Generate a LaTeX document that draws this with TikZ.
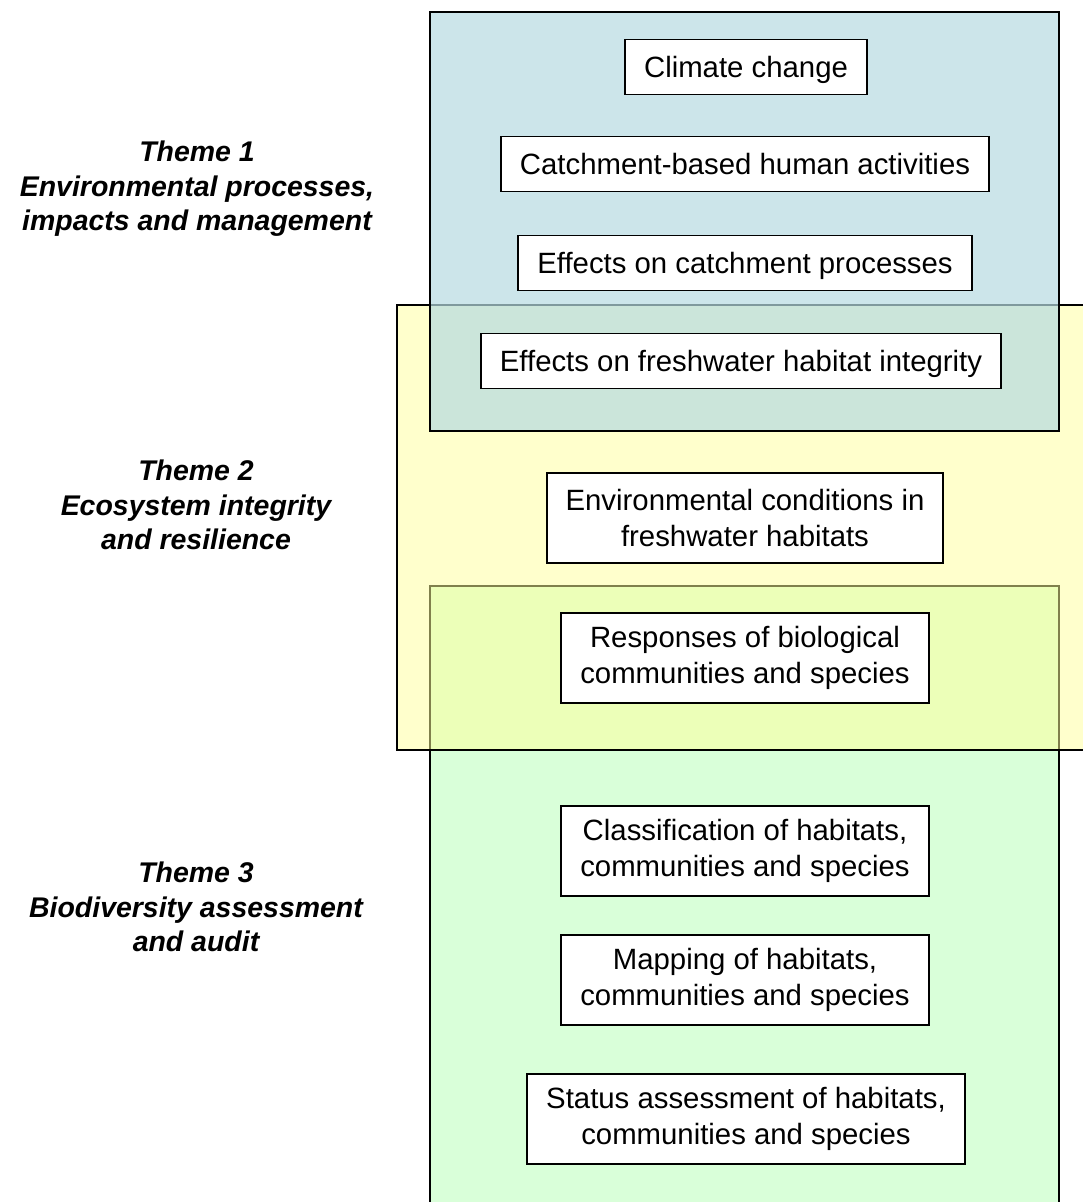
\documentclass[tikz,border=0pt]{standalone}
\usepackage{fontspec}
\setmainfont{Liberation Sans}
\definecolor{themeblue}{RGB}{182,218,225}
\definecolor{themeyellow}{RGB}{255,255,153}
\definecolor{themegreen}{RGB}{217,255,217}

\begin{document}
\begin{tikzpicture}[x=0.02cm,y=-0.02cm,
    topicbase/.style={draw,fill=white,line width=1.1pt,inner xsep=0.38cm,inner ysep=0pt,font=\fontsize{16.7}{20.5}\selectfont},
    topic/.style={topicbase,text height=15pt,text depth=3pt,minimum height=1.1cm},
    topictwo/.style={topicbase,align=center,minimum height=1.8cm},
    themelabel/.style={align=center,font=\fontsize{16.2}{19.6}\selectfont\bfseries\itshape}]
    \useasboundingbox (0,0) rectangle (1082,1202);
    % Draw theme areas
    \draw[line width=1.1pt,fill=themegreen] (430,586) rectangle (1059,1215);
    \draw[line width=1.1pt,fill=themeyellow,fill opacity=0.5] (397,305) rectangle (1095,750);
    \draw[line width=1.1pt,fill=themeblue,fill opacity=0.7] (430,12) rectangle (1059,431);

    % Theme labels
    \node[themelabel] (theme1) at (197,189) {Theme 1\\Environmental processes,\\impacts and management};
    \node[themelabel] (theme2) at (196,505) {Theme 2\\Ecosystem integrity\\and resilience};
    \node[themelabel] (theme3) at (196,907) {Theme 3\\Biodiversity assessment\\and audit};

    % Topics
    \node[topic] (climate) at (746,67) {Climate change};
    \node[topic] (human) at (745,164) {Catchment-based human activities};
    \node[topic] (catchproc) at (745,263) {Effects on catchment processes};
    \node[topic] (habint) at (741,361) {Effects on freshwater habitat integrity};
    \node[topictwo] (envcond) at (745,518) {Environmental conditions in\\freshwater habitats};
    \node[topictwo] (response) at (745,658) {Responses of biological\\communities and species};
    \node[topictwo] (classif) at (745,851) {Classification of habitats,\\communities and species};
    \node[topictwo] (mapping) at (745,980) {Mapping of habitats,\\communities and species};
    \node[topictwo] (status) at (746,1119) {Status assessment of habitats,\\communities and species};
\end{tikzpicture}
\end{document}
